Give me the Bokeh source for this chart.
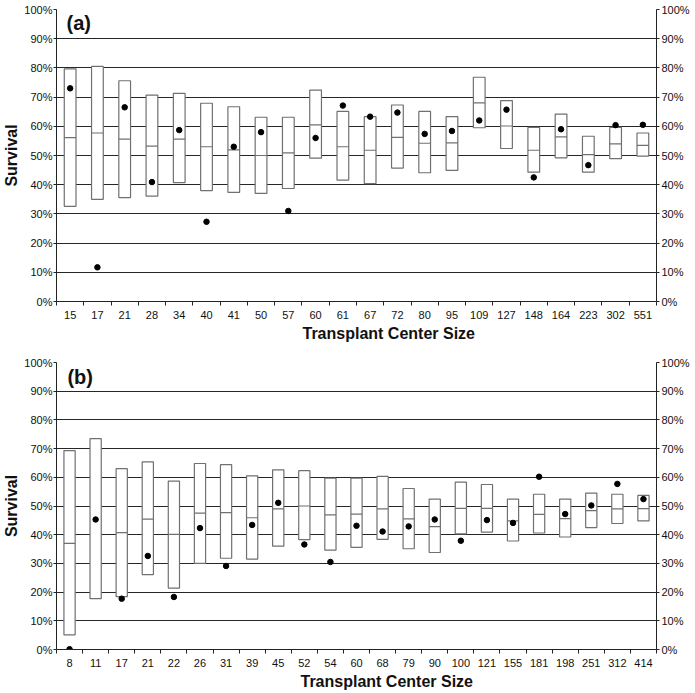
import numpy as np
from bokeh.plotting import figure
from bokeh.models import FixedTicker, NumeralTickFormatter, LinearAxis, Label, Range1d, Title
from bokeh.layouts import column
from bokeh.embed import file_html
from bokeh.resources import INLINE

# ---- panel (a) ----
a_sizes = ["15", "17", "21", "28", "34", "40", "41", "50", "57", "60", "61",
           "67", "72", "80", "95", "109", "127", "148", "164", "223", "302", "551"]
a_low = [0.326, 0.350, 0.356, 0.361, 0.407, 0.380, 0.374, 0.370, 0.387, 0.491, 0.416,
         0.404, 0.457, 0.441, 0.449, 0.595, 0.524, 0.443, 0.492, 0.443, 0.489, 0.498]
a_med = [0.561, 0.577, 0.556, 0.532, 0.556, 0.530, 0.519, 0.500, 0.509, 0.605, 0.530,
         0.518, 0.562, 0.542, 0.543, 0.680, 0.601, 0.518, 0.564, 0.503, 0.540, 0.535]
a_high = [0.797, 0.805, 0.756, 0.707, 0.713, 0.679, 0.667, 0.631, 0.631, 0.724, 0.651,
          0.633, 0.673, 0.651, 0.633, 0.768, 0.688, 0.596, 0.642, 0.566, 0.596, 0.577]
a_obs = [0.730, 0.117, 0.665, 0.409, 0.587, 0.273, 0.530, 0.580, 0.310, 0.560, 0.671,
         0.633, 0.647, 0.574, 0.584, 0.620, 0.657, 0.425, 0.590, 0.467, 0.604, 0.605]

# ---- panel (b) ----
b_sizes = ["8", "11", "17", "21", "22", "26", "31", "39", "45", "52", "54", "60",
           "68", "79", "90", "100", "121", "155", "181", "198", "251", "312", "414"]
b_low = [0.051, 0.177, 0.184, 0.261, 0.214, 0.300, 0.318, 0.315, 0.360, 0.383, 0.346, 0.356,
         0.384, 0.351, 0.338, 0.403, 0.409, 0.378, 0.406, 0.392, 0.425, 0.439, 0.448]
b_med = [0.370, float("nan"), 0.407, 0.454, 0.401, 0.475, 0.477, 0.459, 0.490, 0.500, 0.469, 0.472,
         0.490, 0.455, 0.428, 0.492, 0.492, 0.448, 0.471, 0.456, 0.484, 0.490, 0.491]
b_high = [0.693, 0.735, 0.630, 0.654, 0.587, 0.648, 0.644, 0.605, 0.626, 0.623, 0.597, 0.597,
          0.603, 0.561, 0.524, 0.583, 0.575, 0.524, 0.541, 0.524, 0.545, 0.541, 0.537]
b_obs = [0.001, 0.453, 0.177, 0.326, 0.183, 0.423, 0.291, 0.434, 0.511, 0.366, 0.305, 0.431,
         0.411, 0.429, 0.453, 0.379, 0.451, 0.441, 0.602, 0.472, 0.502, 0.577, 0.524]

y_ticks = [i / 10 for i in range(11)]

FONT = "Liberation Sans"
GRID = "#262626"
BOX = "#707070"


def make_panel(tag, sizes, low, med, high, obs, height, top, bottom, tag_x, tag_y, title_offset):
    n = len(sizes)
    xs = np.arange(1, n + 1)
    w = 0.43
    p = figure(width=692, height=height, x_range=Range1d(0.5, n + 0.5), y_range=Range1d(0, 1),
               output_backend="svg", toolbar_location=None,
               min_border_left=40, min_border_right=30, min_border_top=top, min_border_bottom=bottom)
    p.outline_line_color = None
    p.background_fill_color = "white"
    p.border_fill_color = "white"

    # x axis: labels at centres, ticks at boundaries
    xa = p.xaxis[0]
    xa.ticker = FixedTicker(ticks=[int(v) for v in xs], minor_ticks=[float(v) + 0.5 for v in range(n + 1)])
    xa.major_label_overrides = {int(v): s for v, s in zip(xs, sizes)}
    xa.major_tick_line_color = None
    xa.major_tick_out = 0
    xa.major_tick_in = 0
    xa.minor_tick_out = 4
    xa.minor_tick_in = 0
    xa.minor_tick_line_color = "#222222"
    xa.major_label_standoff = 5
    xa.major_label_text_font = FONT
    xa.major_label_text_font_size = "11px"
    xa.major_label_text_color = "#111111"
    xa.axis_line_color = "#222222"
    xa.axis_label_standoff = 0

    # y axes
    for side in ("left", "right"):
        if side == "left":
            ya = p.yaxis[0]
        else:
            ya = LinearAxis()
            p.add_layout(ya, "right")
            ya.axis_label_standoff = 0
        ya.ticker = FixedTicker(ticks=y_ticks, minor_ticks=[])
        ya.formatter = NumeralTickFormatter(format="0%")
        ya.major_tick_out = 3
        ya.major_tick_in = 0
        ya.major_tick_line_color = "#222222"
        ya.axis_line_color = "#222222"
        ya.major_label_standoff = 2
        ya.major_label_text_font = FONT
        ya.major_label_text_font_size = "11px"
        ya.major_label_text_color = "#111111"
    p.yaxis[0].axis_label = "Survival"
    p.yaxis[0].axis_label_text_font = FONT
    p.yaxis[0].axis_label_text_font_size = "16px"
    p.yaxis[0].axis_label_text_font_style = "bold"
    p.yaxis[0].axis_label_text_color = "#111111"
    p.yaxis[0].axis_label_standoff = 1
    p.yaxis[0].major_label_standoff = 1

    p.xgrid.visible = False
    p.ygrid.ticker = FixedTicker(ticks=y_ticks)
    p.ygrid.grid_line_color = GRID
    p.ygrid.grid_line_width = 1.2

    # boxes
    p.vbar(x=xs, bottom=low, top=high, width=w, fill_color="white",
           line_color=BOX, line_width=1.2)
    p.segment(x0=xs - w / 2, x1=xs + w / 2, y0=med, y1=med, line_color=BOX, line_width=1.2)
    p.scatter(x=xs, y=obs, size=5.5, fill_color="black", line_color="black")

    p.add_layout(Label(x=tag_x, y=tag_y, text=tag, text_font=FONT, text_font_size="20px",
                       text_font_style="bold", text_baseline="middle", text_align="left",
                       text_color="#111111"))
    p.add_layout(Title(text="Transplant Center Size", align="left", offset=title_offset,
                       text_font=FONT, text_font_size="16px", text_font_style="bold",
                       text_color="#111111", standoff=2), "below")
    return p


p1 = make_panel("(a)", a_sizes, a_low, a_med, a_high, a_obs, height=342, top=9, bottom=30,
                tag_x=0.87, tag_y=0.955, title_offset=246)
p2 = make_panel("(b)", b_sizes, b_low, b_med, b_high, b_obs, height=348, top=20, bottom=30,
                tag_x=0.92, tag_y=0.95, title_offset=244)

p = column(p1, p2)
open("out.html", "w").write(file_html(p, INLINE))
